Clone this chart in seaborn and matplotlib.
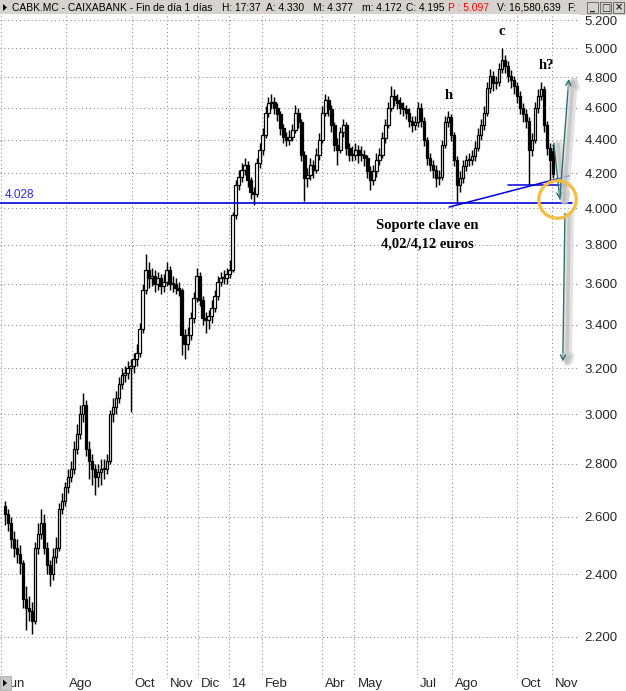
import matplotlib
matplotlib.use("Agg")
import matplotlib.pyplot as plt
import matplotlib.patheffects as pe
import matplotlib.transforms as mtransforms
from matplotlib.patches import Rectangle, Polygon
from matplotlib.ticker import FixedLocator, NullLocator
import numpy as np
import seaborn as sns

# ---------------------------------------------------------------
# Datos: velas de CABK.MC (una vela cada 2 sesiones), jun-2013 .. nov-2014
# ---------------------------------------------------------------
closes = [
    2.61, 2.58, 2.52, 2.49, 2.47, 2.44, 2.32, 2.29, 2.28, 2.25,
    2.49, 2.54, 2.58, 2.49, 2.43, 2.40, 2.46, 2.49, 2.63, 2.66,
    2.71, 2.75, 2.78, 2.86, 2.92, 3.00, 3.04, 2.86, 2.81, 2.78,
    2.75, 2.77, 2.78, 2.78, 2.81, 3.00, 3.03, 3.07, 3.13, 3.17,
    3.18, 3.20, 3.21, 3.24, 3.27, 3.38, 3.57, 3.67, 3.63, 3.64,
    3.60, 3.63, 3.59, 3.61, 3.67, 3.60, 3.60, 3.58, 3.57, 3.35,
    3.31, 3.35, 3.43, 3.53, 3.64, 3.52, 3.43, 3.42, 3.44, 3.48,
    3.54, 3.61, 3.63, 3.63, 3.65, 3.67, 3.96, 4.13, 4.18, 4.22,
    4.25, 4.16, 4.09, 4.08, 4.26, 4.34, 4.43, 4.57, 4.63, 4.64,
    4.60, 4.56, 4.47, 4.42, 4.40, 4.42, 4.46, 4.57, 4.51, 4.31,
    4.17, 4.19, 4.25, 4.22, 4.31, 4.40, 4.57, 4.65, 4.59, 4.49,
    4.37, 4.34, 4.45, 4.49, 4.35, 4.31, 4.31, 4.34, 4.31, 4.31,
    4.29, 4.21, 4.16, 4.21, 4.28, 4.31, 4.41, 4.49, 4.60, 4.68,
    4.65, 4.63, 4.60, 4.59, 4.57, 4.52, 4.49, 4.51, 4.60, 4.52,
    4.40, 4.29, 4.25, 4.22, 4.17, 4.18, 4.37, 4.51, 4.54, 4.43,
    4.28, 4.13, 4.17, 4.24, 4.28, 4.28, 4.30, 4.35, 4.43, 4.49,
    4.57, 4.73, 4.81, 4.76, 4.77, 4.86, 4.92, 4.88, 4.81, 4.78,
    4.74, 4.68, 4.60, 4.56, 4.52, 4.34, 4.40, 4.60, 4.68, 4.72,
    4.49, 4.35, 4.28, 4.195,
]
highs = [
    2.66, 2.63, 2.60, 2.55, 2.52, 2.50, 2.45, 2.36, 2.33, 2.31,
    2.51, 2.58, 2.63, 2.61, 2.51, 2.45, 2.49, 2.53, 2.65, 2.69,
    2.73, 2.78, 2.81, 2.89, 2.96, 3.04, 3.09, 3.06, 2.89, 2.84,
    2.80, 2.80, 2.82, 2.82, 2.84, 3.02, 3.07, 3.10, 3.16, 3.20,
    3.21, 3.23, 3.24, 3.27, 3.31, 3.41, 3.60, 3.75, 3.71, 3.68,
    3.67, 3.66, 3.65, 3.65, 3.71, 3.69, 3.64, 3.63, 3.61, 3.58,
    3.38, 3.39, 3.46, 3.56, 3.68, 3.66, 3.54, 3.46, 3.47, 3.52,
    3.57, 3.64, 3.66, 3.67, 3.68, 3.72, 3.98, 4.16, 4.22, 4.26,
    4.29, 4.27, 4.18, 4.12, 4.29, 4.38, 4.47, 4.61, 4.67, 4.69,
    4.67, 4.63, 4.58, 4.50, 4.45, 4.46, 4.50, 4.62, 4.60, 4.53,
    4.33, 4.23, 4.29, 4.28, 4.35, 4.44, 4.61, 4.69, 4.68, 4.62,
    4.51, 4.41, 4.48, 4.53, 4.51, 4.38, 4.36, 4.38, 4.37, 4.36,
    4.34, 4.31, 4.24, 4.25, 4.32, 4.35, 4.45, 4.53, 4.64, 4.74,
    4.72, 4.69, 4.67, 4.64, 4.62, 4.60, 4.55, 4.55, 4.64, 4.63,
    4.54, 4.42, 4.32, 4.28, 4.25, 4.22, 4.40, 4.55, 4.58, 4.56,
    4.45, 4.30, 4.21, 4.28, 4.31, 4.32, 4.34, 4.39, 4.47, 4.53,
    4.61, 4.77, 4.86, 4.84, 4.81, 4.90, 5.00, 4.95, 4.91, 4.85,
    4.81, 4.77, 4.71, 4.63, 4.59, 4.54, 4.44, 4.64, 4.72, 4.77,
    4.74, 4.52, 4.38, 4.377,
]
lows = [
    2.57, 2.55, 2.49, 2.46, 2.44, 2.40, 2.29, 2.22, 2.25, 2.21,
    2.24, 2.47, 2.52, 2.47, 2.40, 2.36, 2.38, 2.44, 2.48, 2.61,
    2.64, 2.69, 2.73, 2.76, 2.84, 2.90, 2.97, 2.83, 2.74, 2.72,
    2.68, 2.71, 2.72, 2.74, 2.76, 2.80, 2.97, 3.00, 3.05, 3.11,
    3.14, 3.15, 3.01, 3.18, 3.21, 3.25, 3.36, 3.55, 3.58, 3.59,
    3.56, 3.57, 3.55, 3.56, 3.59, 3.57, 3.56, 3.55, 3.54, 3.26,
    3.24, 3.28, 3.33, 3.41, 3.51, 3.49, 3.40, 3.36, 3.38, 3.41,
    3.46, 3.52, 3.59, 3.60, 3.60, 3.63, 3.66, 3.94, 4.10, 4.15,
    4.19, 4.12, 4.05, 4.02, 4.06, 4.23, 4.31, 4.41, 4.54, 4.59,
    4.56, 4.52, 4.43, 4.38, 4.36, 4.37, 4.39, 4.44, 4.47, 4.27,
    4.04, 4.12, 4.16, 4.17, 4.20, 4.28, 4.38, 4.55, 4.55, 4.45,
    4.33, 4.25, 4.32, 4.42, 4.31, 4.27, 4.27, 4.28, 4.26, 4.27,
    4.24, 4.17, 4.10, 4.13, 4.18, 4.25, 4.29, 4.38, 4.47, 4.58,
    4.61, 4.59, 4.56, 4.55, 4.53, 4.48, 4.45, 4.46, 4.48, 4.48,
    4.36, 4.25, 4.21, 4.17, 4.12, 4.13, 4.16, 4.35, 4.48, 4.39,
    4.24, 4.03, 4.09, 4.14, 4.21, 4.24, 4.25, 4.27, 4.33, 4.40,
    4.46, 4.55, 4.70, 4.71, 4.72, 4.74, 4.83, 4.83, 4.77, 4.73,
    4.69, 4.63, 4.56, 4.51, 4.47, 4.13, 4.30, 4.38, 4.57, 4.65,
    4.45, 4.31, 4.16, 4.172,
]
first_open = 2.64
last_open = 4.330          # "A: 4.330" de la barra de título

# eje x: posición (en velas) del primer día de cada mes
month_labels = ["Jun", "Ago", "Oct", "Nov", "Dic", "14", "Feb",
                "Abr", "May", "Jul", "Ago", "Oct", "Nov"]
month_start_bar = [-1.3, 20.3, 42.3, 54.0, 64.3, 74.7, 85.7,
                   106.0, 116.7, 137.7, 149.3, 171.0, 182.7]
price_ticks = [2.2, 2.4, 2.6, 2.8, 3.0, 3.2, 3.4, 3.6, 3.8,
               4.0, 4.2, 4.4, 4.6, 4.8, 5.0, 5.2]

# anotaciones del analista
support_level = 4.028
trend_start, trend_end = (148.3, 4.006), (188.3, 4.184)
neck_start, neck_end = (168.0, 4.13), (188.3, 4.13)
arrows = [((183.3, 4.38), (185.3, 4.05)),
          ((185.3, 4.05), (188.3, 4.79)),
          ((187.0, 3.97), (186.3, 3.23))]
circle_center = (184.3, 4.05)

title_parts = [
    (12, "CABK.MC - CAIXABANK - Fin de día 1 días", "black"),
    (222, "H: 17:37", "black"),
    (266, "A: 4.330", "black"),
    (313, "M: 4.377", "black"),
    (362, "m: 4.172", "black"),
    (406, "C: 4.195", "black"),
    (448, "P : 5.097", "#FF0000"),
    (497, "V: 16,580,639", "black"),
    (567, "F:", "black"),
]

# ---------------------------------------------------------------
sns.set_style("white")
plt.rcParams["font.family"] = ["Liberation Sans", "DejaVu Sans"]

W, H = 626, 691
fig = plt.figure(figsize=(W / 100, H / 100), dpi=100)
ax = fig.add_axes([0, 13 / H, 579 / W, 664 / H])

c = np.array(closes)
o = np.array([first_open] + closes[:-1])
o[-1] = last_open
hi = np.array(highs)
lo = np.array(lows)
x = np.arange(len(c))
up = c >= o

ax.vlines(x, lo, hi, color="black", lw=1.05, zorder=3)
body_lo = np.minimum(o, c)
body_h = np.maximum(np.abs(c - o), 0.004)
ax.bar(x[up], body_h[up], bottom=body_lo[up], width=0.85,
       facecolor="white", edgecolor="black", lw=0.9, zorder=4)
ax.bar(x[~up], body_h[~up], bottom=body_lo[~up], width=0.85,
       facecolor="black", edgecolor="black", lw=0.9, zorder=4)

ax.set_yscale("log")
ax.set_ylim(2.077, 5.244)
ax.set_xlim(-1.67, 191.7)
ax.yaxis.set_major_locator(FixedLocator(price_ticks))
ax.yaxis.set_minor_locator(NullLocator())
ax.set_yticklabels([f"{v:.3f}" for v in price_ticks])
ax.yaxis.tick_right()
ax.tick_params(axis="y", length=0, pad=4, labelsize=9.5)

ax.set_xticks(month_start_bar)
ax.set_xticklabels(month_labels, ha="left")
ax.tick_params(axis="x", length=0, pad=0, labelsize=9.5)
shift = mtransforms.ScaledTranslation(3 / 100, 0, fig.dpi_scale_trans)
for lab in ax.get_xticklabels():
    lab.set_transform(lab.get_transform() + shift)

ax.grid(True, which="major", color="#808080", linestyle=(0, (1, 3)), lw=0.7)
ax.set_axisbelow(True)
for s in ax.spines.values():
    s.set_visible(False)

# soporte y directrices
blue = "#0000DD"
ax.plot([-2, 189.3], [support_level, support_level], color=blue, lw=1.2, zorder=6)
ax.text(0, support_level, f"{support_level:.3f}", color="#2A2AE6", fontsize=8.5,
        va="bottom", ha="left", zorder=6,
        transform=ax.transData + mtransforms.ScaledTranslation(0, 2 / 100, fig.dpi_scale_trans))
ax.plot([trend_start[0], trend_end[0]], [trend_start[1], trend_end[1]],
        color=blue, lw=1.1, zorder=6)
ax.plot([neck_start[0], neck_end[0]], [neck_start[1], neck_end[1]],
        color=blue, lw=1.1, zorder=6)

# flechas con sombra
teal = "#2E7070"
for start, end in arrows:
    ann = ax.annotate("", xy=end, xytext=start, zorder=7,
                      arrowprops=dict(arrowstyle="->", color=teal, lw=1.0,
                                      mutation_scale=9, shrinkA=0, shrinkB=0))
    ann.arrow_patch.set_path_effects([
        pe.SimpleLineShadow(offset=(3.5, -1), shadow_color="#d0d0d0", alpha=0.6, rho=1, linewidth=6),
        pe.SimpleLineShadow(offset=(3, -1), shadow_color="#b8b8b8", alpha=0.6, rho=1, linewidth=2.5),
        pe.Normal()])

ax.plot(*circle_center, "o", ms=27, mfc="none", mec="#F6BE3F", mew=2.3, zorder=8)

serif = dict(family=["Liberation Serif", "DejaVu Serif"], fontweight="bold", color="black")
ax.text(166.0, 5.114, "c", fontsize=10.5, ha="center", va="center", **serif)
ax.text(148.3, 4.683, "h", fontsize=10.5, ha="center", va="center", **serif)
ax.text(180.7, 4.88, "h?", fontsize=10.5, ha="center", va="center", **serif)
ax.text(141.0, 3.855, "Soporte clave en\n4,02/4,12 euros", fontsize=10.5,
        ha="center", va="center", linespacing=1.6, **serif)

# barra de título estilo ventana
fig.add_artist(Rectangle((0, 1 - 15 / H), 1, 15 / H, transform=fig.transFigure,
                         facecolor="#D6D3CE", edgecolor="none", zorder=0))
fig.add_artist(Polygon([(3 / W, 1 - 4 / H), (3 / W, 1 - 11 / H), (7 / W, 1 - 7.5 / H)],
                       closed=True, transform=fig.transFigure, facecolor="black",
                       edgecolor="none"))
for px, txt, col in title_parts:
    fig.text(px / W, 1 - 8 / H, txt, fontsize=7.4, color=col, va="center", ha="left")
for bx, glyph in [(587, "_"), (600, "□"), (613, "×")]:
    fig.add_artist(Rectangle((bx / W, 1 - 13 / H), 11 / W, 11 / H, transform=fig.transFigure,
                             facecolor="#D6D3CE", edgecolor="#606060", lw=0.6))
    fig.text((bx + 5.5) / W, 1 - 7.5 / H, glyph, fontsize=7, ha="center", va="center",
             family=["DejaVu Sans"], fontweight="bold")

# botón de desplazamiento abajo a la izquierda
fig.add_artist(Rectangle((0, 1 / H), 11 / W, 14 / H, transform=fig.transFigure,
                         facecolor="#C8C8C8", edgecolor="#A0A0A0", lw=0.5, zorder=5))
fig.add_artist(Polygon([(3 / W, 11.5 / H), (3 / W, 4.5 / H), (7 / W, 8 / H)],
                       closed=True, transform=fig.transFigure, facecolor="black",
                       edgecolor="none", zorder=6))

fig.savefig("out.png", dpi=100)
